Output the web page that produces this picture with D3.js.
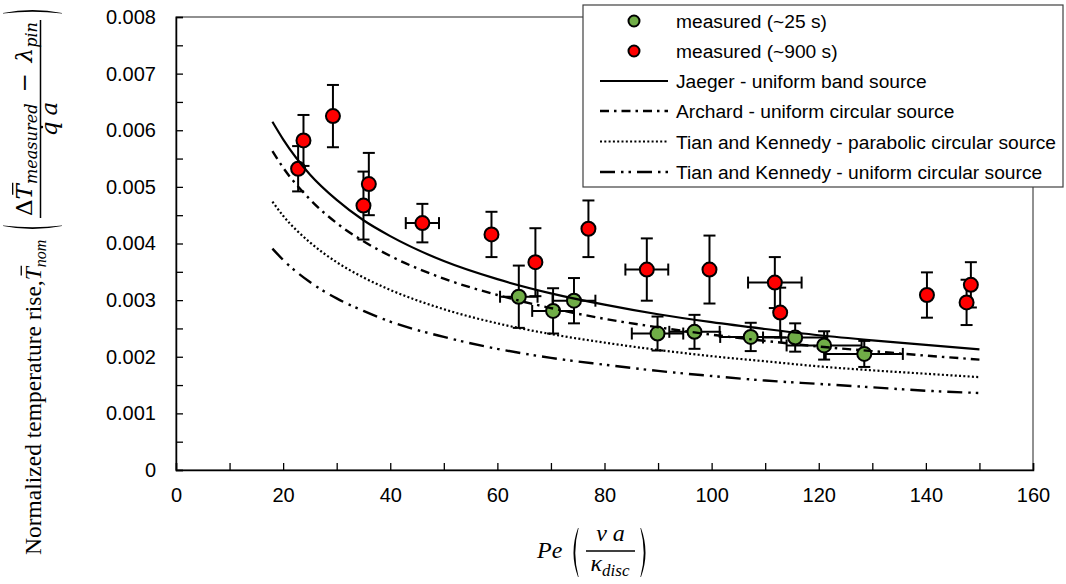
<!DOCTYPE html>
<html><head><meta charset="utf-8">
<script src="https://cdn.jsdelivr.net/npm/d3@7"></script>
<style>body{margin:0;background:#fff} svg{display:block}</style>
</head><body>
<script>
// ---------- data ----------
const xTicks = [0, 20, 40, 60, 80, 100, 120, 140, 160];
const xMinorTicks = [0,10,20,30,40,50,60,70,80,90,100,110,120,130,140,150,160];
const yTicks = [0, 0.001, 0.002, 0.003, 0.004, 0.005, 0.006, 0.007, 0.008];
const yTickLabels = ["0", "0.001", "0.002", "0.003", "0.004", "0.005", "0.006", "0.007", "0.008"];
const yMinorTicks = [0,0.0005,0.001,0.0015,0.002,0.0025,0.003,0.0035,0.004,0.0045,0.005,0.0055,0.006,0.0065,0.007,0.0075,0.008];

// measured (~25 s)
const greenPe   = [64.0, 70.4, 74.3, 89.9, 96.8, 107.3, 115.6, 121.0, 128.5];
const greenT    = [0.00306, 0.00281, 0.00299, 0.00241, 0.00244, 0.00235, 0.00234, 0.00220, 0.00205];
const greenErrT = [0.00055, 0.00040, 0.00040, 0.00030, 0.00030, 0.00025, 0.00025, 0.00025, 0.00023];
const greenErrPe= [3.5, 3.9, 4.0, 4.8, 4.7, 5.7, 6.0, 7.0, 7.2];

// measured (~900 s)
const redPe   = [22.8, 23.8, 29.3, 35.0, 36.0, 46.0, 58.9, 67.1, 77.0, 87.9, 99.6, 111.8, 112.8, 140.2, 147.6, 148.4];
const redT    = [0.00532, 0.00582, 0.00625, 0.00467, 0.00505, 0.00436, 0.00416, 0.00367, 0.00426, 0.00354, 0.00354, 0.00331, 0.00278, 0.00309, 0.00296, 0.00327];
const redErrT = [0.00040, 0.00045, 0.00055, 0.00060, 0.00055, 0.00034, 0.00040, 0.00060, 0.00050, 0.00055, 0.00060, 0.00045, 0.00044, 0.00040, 0.00040, 0.00040];
const redErrPe= [0, 0, 0, 0, 0, 3.1, 0, 0, 0, 4.0, 0, 5.0, 0, 0, 0, 0];

// model curves
const modelPe     = [18, 20, 25, 30, 35, 40, 50, 60, 70, 80, 90, 100, 110, 120, 130, 140, 150];
const jaeger      = [0.00615,0.00584,0.00522,0.00477,0.00441,0.00413,0.00369,0.00337,0.00312,0.00292,0.00275,0.00261,0.00249,0.00238,0.00229,0.00221,0.00213];
const archard     = [0.00563,0.00534,0.00478,0.00436,0.00404,0.00378,0.00338,0.00309,0.00286,0.00267,0.00252,0.00239,0.00228,0.00218,0.00210,0.00202,0.00195];
const tkParabolic = [0.00474,0.00449,0.00402,0.00367,0.00340,0.00318,0.00284,0.00259,0.00240,0.00225,0.00212,0.00201,0.00192,0.00183,0.00176,0.00170,0.00164];
const tkUniform   = [0.00391,0.00371,0.00332,0.00303,0.00281,0.00262,0.00235,0.00214,0.00198,0.00186,0.00175,0.00166,0.00158,0.00152,0.00146,0.00140,0.00136];

const legendLabels = ["measured (~25 s)", "measured (~900 s)", "Jaeger - uniform band source",
  "Archard - uniform circular source", "Tian and Kennedy - parabolic circular source",
  "Tian and Kennedy - uniform circular source"];

// ---------- setup ----------
const W = 1066, H = 584;
const L = 176, R = 1033, T = 17, B = 470;
const sans = "'Liberation Sans', Arial, sans-serif";
const serif = "'Liberation Serif', 'Times New Roman', serif";
const mathSerif = "'DejaVu Serif', 'Liberation Serif', serif";
const svg = d3.select("body").append("svg").attr("width", W).attr("height", H);

const x = d3.scaleLinear().domain([0, 160]).range([L, R]);
const y = d3.scaleLinear().domain([0, 0.008]).range([B, T]);

// frame
svg.append("rect").attr("x", L).attr("y", T).attr("width", R - L).attr("height", B - T)
  .attr("fill", "none").attr("stroke", "#222").attr("stroke-width", 1);

// axes with inward ticks
const gx = svg.append("g").attr("transform", `translate(0,${B})`)
  .call(d3.axisBottom(x).tickValues(xMinorTicks).tickSize(-7).tickFormat(""));
gx.select(".domain").attr("stroke", "#000").attr("stroke-width", 1.5);
gx.selectAll(".tick line").attr("stroke", "#000").attr("stroke-width", 1.3);
const gx2 = svg.append("g").attr("transform", `translate(0,${B})`)
  .call(d3.axisBottom(x).tickValues(xTicks).tickSize(0).tickPadding(18).tickFormat(d3.format("d")));
gx2.select(".domain").remove();
gx2.selectAll("text").attr("font-family", sans).attr("font-size", 20).attr("fill", "#000");

const gy = svg.append("g").attr("transform", `translate(${L},0)`)
  .call(d3.axisLeft(y).tickValues(yMinorTicks).tickSize(-7).tickFormat(""));
gy.select(".domain").attr("stroke", "#000").attr("stroke-width", 1.5);
gy.selectAll(".tick line").attr("stroke", "#000").attr("stroke-width", 1.3);
const gy2 = svg.append("g").attr("transform", `translate(${L},0)`)
  .call(d3.axisLeft(y).tickValues(yTicks).tickSize(0).tickPadding(20).tickFormat((d, i) => yTickLabels[i]));
gy2.select(".domain").remove();
gy2.selectAll("text").attr("font-family", sans).attr("font-size", 20).attr("fill", "#000");

// ---------- measured series ----------
function drawSeries(pe, t, eT, ePe, fill) {
  const g = svg.append("g");
  const cap = 6;
  pe.forEach((p, i) => {
    const cx = x(p), cy = y(t[i]);
    const y1 = y(t[i] + eT[i]), y2 = y(t[i] - eT[i]);
    g.append("line").attr("x1", cx).attr("x2", cx).attr("y1", y1).attr("y2", y2);
    g.append("line").attr("x1", cx - cap).attr("x2", cx + cap).attr("y1", y1).attr("y2", y1);
    g.append("line").attr("x1", cx - cap).attr("x2", cx + cap).attr("y1", y2).attr("y2", y2);
    if (ePe[i] > 0) {
      const x1 = x(p - ePe[i]), x2 = x(p + ePe[i]);
      g.append("line").attr("x1", x1).attr("x2", x2).attr("y1", cy).attr("y2", cy);
      g.append("line").attr("x1", x1).attr("x2", x1).attr("y1", cy - cap).attr("y2", cy + cap);
      g.append("line").attr("x1", x2).attr("x2", x2).attr("y1", cy - cap).attr("y2", cy + cap);
    }
  });
  g.selectAll("line").attr("stroke", "#000").attr("stroke-width", 2);
  svg.append("g").selectAll("circle").data(pe).join("circle")
    .attr("cx", d => x(d)).attr("cy", (d, i) => y(t[i])).attr("r", 7)
    .attr("fill", fill).attr("stroke", "#000").attr("stroke-width", 2);
}
drawSeries(greenPe, greenT, greenErrT, greenErrPe, "#70AD47");
drawSeries(redPe, redT, redErrT, redErrPe, "#FF0000");

// ---------- model curves ----------
const styles = [
  { data: jaeger, dash: null, w: 2.2 },
  { data: archard, dash: "9 5 2.5 5", w: 2.4 },
  { data: tkParabolic, dash: "2 2.3", w: 2.2 },
  { data: tkUniform, dash: "15 6 2.5 5 2.5 6", w: 2.4 }
];
const line = d3.line().x(d => x(d[0])).y(d => y(d[1])).curve(d3.curveMonotoneX);
styles.forEach(s => {
  svg.append("path").attr("d", line(modelPe.map((p, i) => [p, s.data[i]])))
    .attr("fill", "none").attr("stroke", "#000").attr("stroke-width", s.w)
    .attr("stroke-dasharray", s.dash);
});

// ---------- legend ----------
const lg = svg.append("g");
lg.append("rect").attr("x", 583).attr("y", 5).attr("width", 480).attr("height", 182)
  .attr("fill", "#fff").attr("stroke", "#404040").attr("stroke-width", 1.2);
const rowY = [21, 51, 81, 111, 141.5, 172];
legendLabels.forEach((lab, i) => {
  const yy = rowY[i];
  if (i < 2) {
    lg.append("circle").attr("cx", 634).attr("cy", yy).attr("r", 5.5)
      .attr("fill", i === 0 ? "#70AD47" : "#FF0000").attr("stroke", "#000").attr("stroke-width", 2);
  } else {
    const s = styles[i - 2];
    lg.append("line").attr("x1", 600).attr("x2", 668).attr("y1", yy).attr("y2", yy)
      .attr("stroke", "#000").attr("stroke-width", s.w).attr("stroke-dasharray", s.dash);
  }
  lg.append("text").attr("x", 676).attr("y", yy + 7).attr("font-family", sans)
    .attr("font-size", 19.2).attr("fill", "#000").text(lab);
});

// ---------- math label helpers ----------
function place(g, runs, u, v) {
  runs.forEach(r => {
    u += (r.gapBefore || 0);
    const t = g.append("text").attr("x", u).attr("y", v + (r.dv || 0))
      .attr("font-family", r.font || serif).attr("font-size", r.size)
      .attr("font-style", r.it ? "italic" : "normal").attr("fill", "#000").text(r.t);
    const w = t.node().getComputedTextLength();
    if (r.bar) {
      g.append("line").attr("x1", u + r.size * 0.2).attr("x2", u + w + r.size * 0.06)
        .attr("y1", v - r.size * 0.84).attr("y2", v - r.size * 0.84)
        .attr("stroke", "#000").attr("stroke-width", 1.3);
    }
    if (r.dot) {
      g.append("circle").attr("cx", u + w * 0.62).attr("cy", v - r.size * 0.66)
        .attr("r", r.size * 0.06).attr("fill", "#000");
    }
    u += w + (r.gapAfter || 0);
  });
  return u;
}
function measureRuns(runs) {
  const tmp = svg.append("g");
  const e = place(tmp, runs, 0, 0);
  tmp.remove();
  return e;
}
function paren(g, a0, b0, b1, depth, thick, dir) {
  const bm = (b0 + b1) / 2, ab = a0 - dir * depth, ab2 = ab + dir * thick;
  g.append("path").attr("d",
    `M${a0},${b0} Q${ab},${bm} ${a0},${b1} L${a0 + dir * 0.6},${b1} Q${ab2},${bm} ${a0 + dir * 0.6},${b0} Z`)
    .attr("fill", "#000");
}

// ---------- y-axis title (rotated) ----------
// local coords: u = H - screenY, v = screenX
const yg = svg.append("g").attr("transform", `translate(0,${H}) rotate(-90)`);
place(yg, [
  { t: "Normalized temperature rise, ", size: 23.5 },
  { t: "T", size: 23.5, it: true, bar: true },
  { t: "nom", size: 16, it: true, dv: 5 }
], 29, 41);
const parenL = 358;
paren(yg, parenL, 3, 62, 6, 3, 1);
function numRuns(s, gap) {
  const f = mathSerif;
  return [
    { t: "\u0394", size: s, font: f },
    { t: "T", size: s, it: true, bar: true, font: f },
    { t: "measured", size: s * 0.7, it: true, dv: s * 0.2, font: f },
    { t: "\u2212", size: s, gapBefore: gap, gapAfter: gap, font: f },
    { t: "\u03BB", size: s, it: true, font: f },
    { t: "pin", size: s * 0.7, it: true, dv: s * 0.2, font: f }
  ];
}
const sN = 23;
const baseW = measureRuns(numRuns(sN, 5));
const gapN = 5 + Math.max(0, (194 - baseW) / 2);
const fu = 368;
const nEnd = place(yg, numRuns(sN, gapN), fu, 32);
yg.append("line").attr("x1", fu - 2).attr("x2", nEnd + 2).attr("y1", 40.5).attr("y2", 40.5)
  .attr("stroke", "#000").attr("stroke-width", 1.5);
const denRuns = [{ t: "q", size: 23, it: true, dot: true, gapAfter: 6, font: mathSerif },
                 { t: "a", size: 23, it: true, font: mathSerif }];
const dw = measureRuns(denRuns);
place(yg, denRuns, (fu + nEnd) / 2 - dw / 2, 57);
paren(yg, nEnd + 9, 3, 62, 6, 3, -1);

// ---------- x-axis title ----------
const xg = svg.append("g");
place(xg, [{ t: "Pe", size: 24, it: true }], 537, 558);
function hparen(g, x0, y0, y1, depth, thick, dir) {
  const ym = (y0 + y1) / 2, xb = x0 - dir * depth, xb2 = xb + dir * thick;
  g.append("path").attr("d",
    `M${x0},${y0} Q${xb},${ym} ${x0},${y1} L${x0 + dir * 0.6},${y1} Q${xb2},${ym} ${x0 + dir * 0.6},${y0} Z`)
    .attr("fill", "#000");
}
hparen(xg, 578, 528, 577, 9, 3, 1);
const numX = [{ t: "v", size: 24, it: true, gapAfter: 6 }, { t: "a", size: 24, it: true }];
const nwx = measureRuns(numX);
place(xg, numX, 610.5 - nwx / 2, 541);
xg.append("line").attr("x1", 586).attr("x2", 635).attr("y1", 551).attr("y2", 551)
  .attr("stroke", "#000").attr("stroke-width", 1.5);
const denX = [{ t: "\u03BA", size: 24, it: true }, { t: "disc", size: 17, it: true, dv: 5 }];
const dwx = measureRuns(denX);
place(xg, denX, 610 - dwx / 2, 571);
hparen(xg, 641, 528, 577, 9, 3, -1);
</script>
</body></html>
